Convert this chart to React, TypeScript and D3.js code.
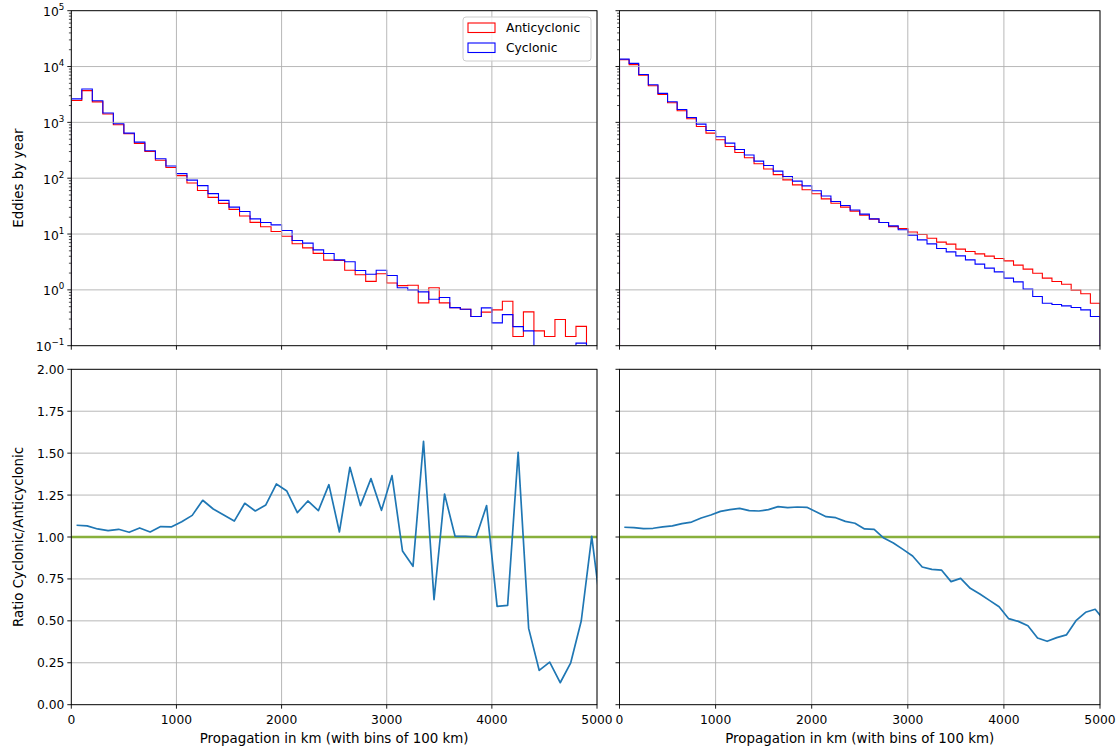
import React from "react";
import * as d3 from "d3";

// ---------- data ----------
const BIN_WIDTH = 100;
const xTicks = [0, 1000, 2000, 3000, 4000, 5000];
const ratioTicks = [0, 0.25, 0.5, 0.75, 1, 1.25, 1.5, 1.75, 2];
const ratioTickLabels = ["0.00", "0.25", "0.50", "0.75", "1.00", "1.25", "1.50", "1.75", "2.00"];
const logExponents = [-1, 0, 1, 2, 3, 4, 5];

// left: eddies by year per 100 km bin
const leftAnticyclonic = [
  2460, 3710, 2330, 1416, 906, 625, 420, 301, 210, 155.7,
  111, 82, 60.3, 45.4, 35.4, 27.7, 21.1, 16.2, 13.5, 11.1,
  9.1, 6.68, 5.65, 4.5, 3.41, 3.35, 2.25, 1.87, 1.42, 1.94,
  1.33, 1.19, 1.21, 0.585, 1.09, 0.585, 0.48, 0.45, 0.333, 0.4,
  0.438, 0.627, 0.146, 0.403, 0.184, 0.146, 0.294, 0.146, 0.222, 0.037,
];
const leftCyclonic = [
  2640, 3950, 2440, 1470, 944, 643, 443, 310, 223, 165,
  121, 92.5, 73.5, 53, 40, 30.3, 25.3, 18.7, 16.1, 14.6,
  11.6, 7.65, 6.86, 5.2, 4.48, 3.45, 3.18, 2.22, 1.91, 2.25,
  1.81, 1.09, 1.0, 0.92, 0.68, 0.73, 0.48, 0.45, 0.333, 0.475,
  0.256, 0.36, 0.22, 0.184, 0.037, 0.037, 0.037, 0.037, 0.111, 0.037,
];
// right
const rightAnticyclonic = [
  13200, 10800, 7030, 4530, 3160, 2245, 1615, 1160, 845, 643,
  488, 370, 289, 232, 181, 146, 116, 93.5, 76, 62,
  52.5, 42.7, 35.7, 30.3, 25.7, 21.8, 18.5, 16.1, 13.6, 12.6,
  10.9, 9.8, 8.43, 7.16, 6.6, 5.36, 4.86, 4.42, 4.02, 3.64,
  3.31, 2.77, 2.35, 1.99, 1.62, 1.41, 1.26, 0.99, 0.85, 0.577,
];
const rightCyclonic = [
  13600, 11400, 7220, 4720, 3300, 2340, 1700, 1225, 931, 716,
  552, 425, 327, 260, 202, 169, 134, 107, 88.7, 73,
  59.5, 48, 38.3, 32.4, 27, 22.7, 18.7, 16.1, 14.0, 11.9,
  9.55, 7.87, 6.67, 5.5, 4.8, 4.07, 3.45, 2.89, 2.45, 2.1,
  1.62, 1.39, 1.03, 0.76, 0.577, 0.546, 0.517, 0.482, 0.438, 0.333,
];

// ratio cyclonic / anticyclonic at bin centres (last point lies past the axis end)
const ratioCentres = d3.range(50, 5100, 100);
const leftRatio = [
  1.070, 1.066, 1.048, 1.038, 1.046, 1.028, 1.054, 1.030, 1.062, 1.060,
  1.091, 1.129, 1.219, 1.167, 1.131, 1.095, 1.201, 1.155, 1.191, 1.316,
  1.274, 1.145, 1.215, 1.157, 1.312, 1.030, 1.416, 1.187, 1.348, 1.159,
  1.366, 0.917, 0.825, 1.571, 0.626, 1.256, 1.004, 1.004, 1.000, 1.187,
  0.586, 0.592, 1.505, 0.455, 0.205, 0.254, 0.131, 0.250, 0.499, 1.004,
  0.502,
];
const rightRatio = [
  1.058, 1.056, 1.050, 1.052, 1.060, 1.066, 1.080, 1.089, 1.113, 1.131,
  1.153, 1.163, 1.171, 1.157, 1.155, 1.163, 1.181, 1.175, 1.179, 1.177,
  1.149, 1.121, 1.115, 1.093, 1.082, 1.048, 1.046, 0.994, 0.964, 0.926,
  0.887, 0.821, 0.807, 0.803, 0.734, 0.753, 0.694, 0.660, 0.622, 0.584,
  0.513, 0.497, 0.471, 0.398, 0.378, 0.400, 0.416, 0.501, 0.551, 0.569,
  0.500,
];

const seriesNames = ["Anticyclonic", "Cyclonic"];
const seriesColors = ["#ff0000", "#0000ff"];

// ---------- drawing ----------
const W = 1120;
const H = 753;
const FONT = "DejaVu Sans, Verdana, sans-serif";
const GRID = "#b0b0b0";
const FS = 12.3;
const LFS = 13.4;

type Box = { left: number; right: number; top: number; bottom: number };

function XAxis({ box, x, showLabels }: { box: Box; x: d3.ScaleLinear<number, number>; showLabels: boolean }) {
  return (
    <g>
      {xTicks.map((t) => (
        <g key={t}>
          <line x1={x(t)} x2={x(t)} y1={box.bottom} y2={box.bottom + 4} stroke="#000" strokeWidth={0.9} />
          {showLabels && (
            <text x={x(t)} y={box.bottom + 19.3} textAnchor="middle" fontSize={FS} fontFamily={FONT} fill="#000">
              {t}
            </text>
          )}
        </g>
      ))}
    </g>
  );
}

function Frame({ box }: { box: Box }) {
  return (
    <rect
      x={box.left}
      y={box.top}
      width={box.right - box.left}
      height={box.bottom - box.top}
      fill="none"
      stroke="#000"
      strokeWidth={0.9}
    />
  );
}

function HistPanel({
  id,
  box,
  anti,
  cyc,
  showYLabels,
  legend,
}: {
  id: string;
  box: Box;
  anti: number[];
  cyc: number[];
  showYLabels: boolean;
  legend: boolean;
}) {
  const x = d3.scaleLinear().domain([0, 5000]).range([box.left, box.right]);
  const y = d3.scaleLog().domain([0.1, 1e5]).range([box.bottom, box.top]);
  const floor = 1e-3;
  const step = (vals: number[]) => {
    const pts: [number, number][] = [[0, floor]];
    vals.forEach((v, i) => {
      const vv = v > 0 ? v : floor;
      pts.push([i * BIN_WIDTH, vv]);
      pts.push([(i + 1) * BIN_WIDTH, vv]);
    });
    pts.push([vals.length * BIN_WIDTH, floor]);
    return d3
      .line<[number, number]>()
      .x((d) => x(d[0]))
      .y((d) => y(d[1]))(pts) as string;
  };
  const minor: number[] = [];
  for (let e = -1; e < 5; e++) for (let m = 2; m <= 9; m++) minor.push(m * Math.pow(10, e));

  return (
    <g>
      <defs>
        <clipPath id={id}>
          <rect x={box.left} y={box.top} width={box.right - box.left} height={box.bottom - box.top} />
        </clipPath>
      </defs>
      <g clipPath={`url(#${id})`}>
        <path d={step(anti)} fill="none" stroke={seriesColors[0]} strokeWidth={1.1} />
        <path d={step(cyc)} fill="none" stroke={seriesColors[1]} strokeWidth={1.1} />
      </g>
      {xTicks.map((t) => (
        <line key={"gx" + t} x1={x(t)} x2={x(t)} y1={box.top} y2={box.bottom} stroke={GRID} strokeWidth={0.9} />
      ))}
      {logExponents.map((e) => (
        <line
          key={"gy" + e}
          x1={box.left}
          x2={box.right}
          y1={y(Math.pow(10, e))}
          y2={y(Math.pow(10, e))}
          stroke={GRID}
          strokeWidth={0.9}
        />
      ))}
      <Frame box={box} />
      <XAxis box={box} x={x} showLabels={false} />
      {minor.map((m) => (
        <line key={"mn" + m} x1={box.left - 2.4} x2={box.left} y1={y(m)} y2={y(m)} stroke="#000" strokeWidth={0.7} />
      ))}
      {logExponents.map((e) => {
        const ty = y(Math.pow(10, e));
        return (
          <g key={"yt" + e}>
            <line x1={box.left - 4} x2={box.left} y1={ty} y2={ty} stroke="#000" strokeWidth={0.9} />
            {showYLabels && (
              <text x={box.left - 7} y={ty + 5.5} textAnchor="end" fontSize={FS} fontFamily={FONT} fill="#000">
                10
                <tspan fontSize={8.7} dy={-6}>
                  {e < 0 ? "\u2212" + Math.abs(e) : String(e)}
                </tspan>
              </text>
            )}
          </g>
        );
      })}
      {legend && (
        <g>
          <rect x={463} y={17} width={128} height={44} rx={3} fill="#fff" fillOpacity={0.8} stroke="#cccccc" strokeWidth={1} />
          {seriesNames.map((n, i) => (
            <g key={n}>
              <rect x={468} y={23 + i * 20} width={27} height={9.5} fill="none" stroke={seriesColors[i]} strokeWidth={1.1} />
              <text x={506} y={32 + i * 20} fontSize={FS} fontFamily={FONT} fill="#000">
                {n}
              </text>
            </g>
          ))}
        </g>
      )}
    </g>
  );
}

function RatioPanel({
  id,
  box,
  values,
  showYLabels,
}: {
  id: string;
  box: Box;
  values: number[];
  showYLabels: boolean;
}) {
  const x = d3.scaleLinear().domain([0, 5000]).range([box.left, box.right]);
  const y = d3.scaleLinear().domain([0, 2]).range([box.bottom, box.top]);
  const line = d3
    .line<number>()
    .x((_, i) => x(ratioCentres[i]))
    .y((d) => y(d));
  return (
    <g>
      <defs>
        <clipPath id={id}>
          <rect x={box.left} y={box.top} width={box.right - box.left} height={box.bottom - box.top} />
        </clipPath>
      </defs>
      {xTicks.map((t) => (
        <line key={"gx" + t} x1={x(t)} x2={x(t)} y1={box.top} y2={box.bottom} stroke={GRID} strokeWidth={0.9} />
      ))}
      {ratioTicks.map((t) => (
        <line key={"gy" + t} x1={box.left} x2={box.right} y1={y(t)} y2={y(t)} stroke={GRID} strokeWidth={0.9} />
      ))}
      <g clipPath={`url(#${id})`}>
        <line x1={box.left} x2={box.right} y1={y(1)} y2={y(1)} stroke="#88b03c" strokeWidth={2.4} />
        <path d={line(values) as string} fill="none" stroke="#1f77b4" strokeWidth={1.7} strokeLinejoin="round" />
      </g>
      <Frame box={box} />
      <XAxis box={box} x={x} showLabels={true} />
      {ratioTicks.map((t, i) => (
        <g key={"yt" + t}>
          <line x1={box.left - 4} x2={box.left} y1={y(t)} y2={y(t)} stroke="#000" strokeWidth={0.9} />
          {showYLabels && (
            <text x={box.left - 7} y={y(t) + 4.5} textAnchor="end" fontSize={FS} fontFamily={FONT} fill="#000">
              {ratioTickLabels[i]}
            </text>
          )}
        </g>
      ))}
      <text
        x={(box.left + box.right) / 2}
        y={box.bottom + 37.8}
        textAnchor="middle"
        fontSize={LFS}
        fontFamily={FONT}
        fill="#000"
      >
        Propagation in km (with bins of 100 km)
      </text>
    </g>
  );
}

export default function App() {
  const topBox = { top: 10.7, bottom: 345.7 };
  const botBox = { top: 369.3, bottom: 704.7 };
  const leftX = { left: 71.3, right: 597 };
  const rightX = { left: 619.5, right: 1100 };
  return (
    <svg
      width={W}
      height={H}
      viewBox={`0 0 ${W} ${H}`}
      style={{ position: "absolute", left: 0, top: 0, background: "#fff" }}
    >
      <rect x={0} y={0} width={W} height={H} fill="#fff" />
      <HistPanel id="c1" box={{ ...leftX, ...topBox }} anti={leftAnticyclonic} cyc={leftCyclonic} showYLabels legend />
      <HistPanel
        id="c2"
        box={{ ...rightX, ...topBox }}
        anti={rightAnticyclonic}
        cyc={rightCyclonic}
        showYLabels={false}
        legend={false}
      />
      <RatioPanel id="c3" box={{ ...leftX, ...botBox }} values={leftRatio} showYLabels />
      <RatioPanel id="c4" box={{ ...rightX, ...botBox }} values={rightRatio} showYLabels={false} />
      <text
        transform={`translate(23,${(topBox.top + topBox.bottom) / 2}) rotate(-90)`}
        textAnchor="middle"
        fontSize={LFS}
        fontFamily={FONT}
        fill="#000"
      >
        Eddies by year
      </text>
      <text
        transform={`translate(23,${(botBox.top + botBox.bottom) / 2}) rotate(-90)`}
        textAnchor="middle"
        fontSize={LFS}
        fontFamily={FONT}
        fill="#000"
      >
        Ratio Cyclonic/Anticyclonic
      </text>
    </svg>
  );
}
